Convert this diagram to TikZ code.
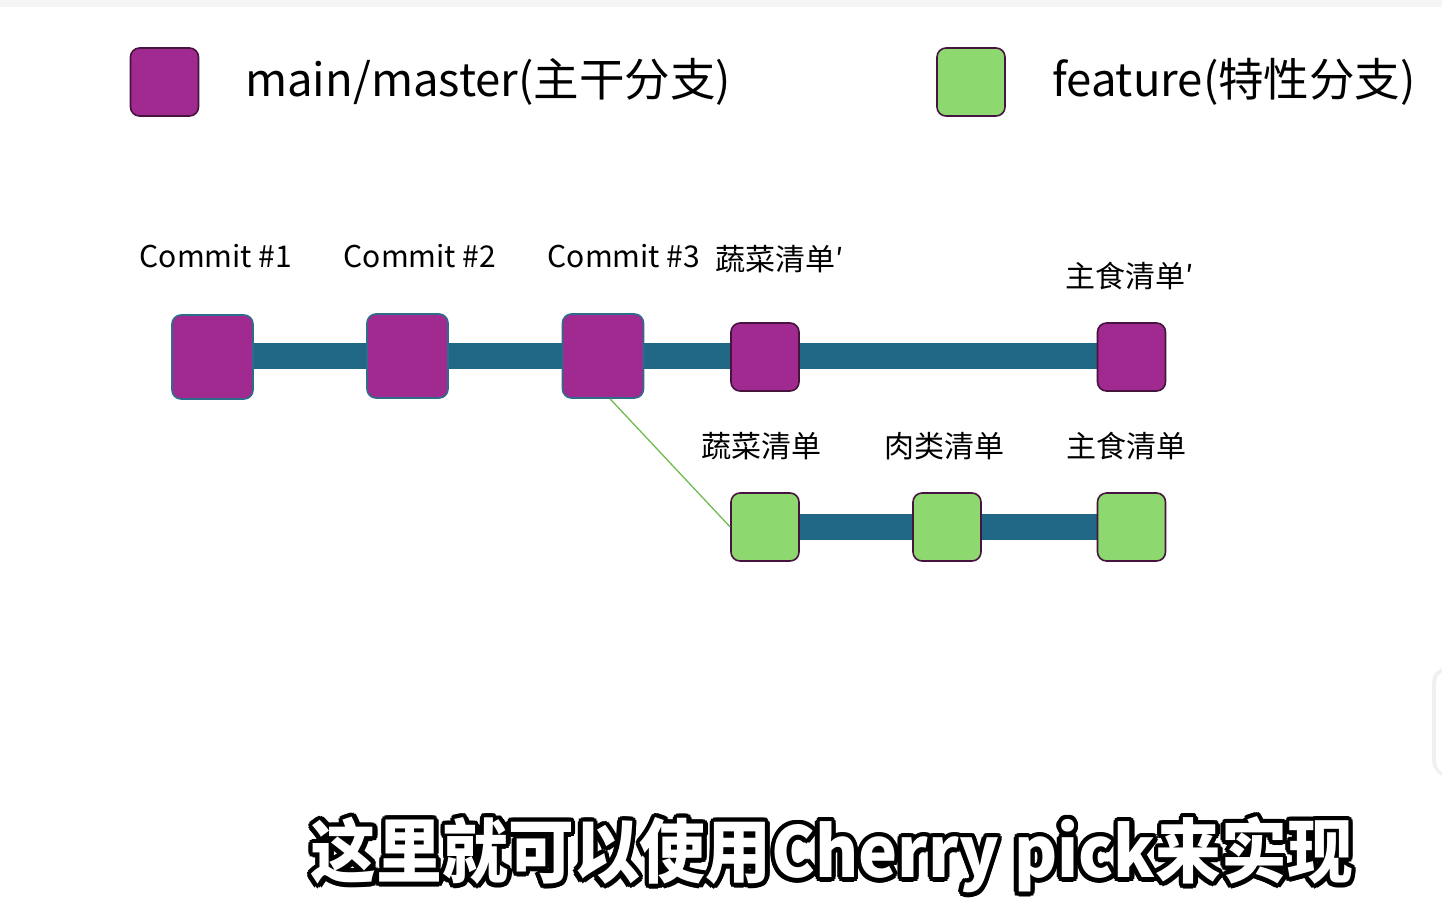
\documentclass[tikz,border=0pt]{standalone}
\usepackage{fontspec}
\setmainfont{Noto Sans CJK SC}
\definecolor{mpurple}{RGB}{160,42,143}
\definecolor{mgreen}{RGB}{141,216,111}
\definecolor{dborder}{RGB}{70,20,62}
\definecolor{tborder}{RGB}{46,108,140}
\definecolor{rail}{RGB}{33,104,135}
\definecolor{glink}{RGB}{110,187,80}
\newcommand{\subtxt}{这里就可以使用Cherry pick来实现}
\tikzset{
  bigcommit/.style={draw=tborder, line width=1.6pt, fill=mpurple, rounded corners=9pt, minimum width=81pt, minimum height=84pt, inner sep=0pt},
  pcommit/.style={draw=dborder, line width=1.6pt, fill=mpurple, rounded corners=9pt, minimum width=68pt, minimum height=68pt, inner sep=0pt},
  gcommit/.style={draw=dborder, line width=1.6pt, fill=mgreen, rounded corners=9pt, minimum width=68pt, minimum height=68pt, inner sep=0pt},
  railline/.style={draw=rail, line width=26pt},
  lbl/.style={font=\fontsize{30pt}{32pt}\selectfont, inner sep=0pt},
  leg/.style={font=\fontsize{45.5pt}{50pt}\selectfont, inner sep=0pt, anchor=west},
  subt/.style={font=\bfseries\fontsize{70pt}{76pt}\selectfont, inner sep=0pt, xscale=0.94},
}
\begin{document}
\begin{tikzpicture}[x=1pt,y=-1pt]
\useasboundingbox (0,0) rectangle (1442,916);
\fill[white] (0,0) rectangle (1442,916);
\fill[black!4] (0,0) rectangle (1442,7);
% legend
\node[pcommit] (legm) at (164.5,82) {};
\node[leg] (legmt) at (245,82) {main/master(主干分支)};
\node[gcommit] (legg) at (971,82) {};
\node[leg] (leggt) at (1052,82) {feature(特性分支)};
% rails
\draw[railline] (212,356) -- (1131,356);
\draw[railline] (765,527) -- (1131,527);
% main commits
\node[bigcommit] (c1) at (212.5,357) {};
\node[bigcommit] (c2) at (407.5,356) {};
\node[bigcommit] (c3) at (603,356) {};
\node[pcommit] (v2) at (765,357) {};
\node[pcommit] (s2) at (1131.5,357) {};
% feature commits
\node[gcommit] (v1) at (765,527) {};
\node[gcommit] (m1) at (947,527) {};
\node[gcommit] (s1) at (1131.5,527) {};
% branch link
\draw[glink, line width=1.3pt] (c3.south) ++(7,0) -- (v1.west);
% labels
\node[lbl] (l1) at (216,256) {Commit \#1};
\node[lbl] (l2) at (420,256) {Commit \#2};
\node[lbl] (l3) at (624,256) {Commit \#3};
\node[lbl] (l4) at (780,259) {蔬菜清单′};
\node[lbl] (l5) at (1130,276) {主食清单′};
\node[lbl] (l6) at (761,446) {蔬菜清单};
\node[lbl] (l7) at (944,446) {肉类清单};
\node[lbl] (l8) at (1126,446) {主食清单};
% right edge UI shape
\fill[black!6] (1442,668) -- (1436,672) .. controls (1432,676) and (1432,680) .. (1432,690) -- (1432,758) .. controls (1432,768) and (1436,772) .. (1442,776) -- cycle;
\fill[white] (1442,672) -- (1438,676) .. controls (1436,680) and (1436,684) .. (1436,692) -- (1436,756) .. controls (1436,766) and (1438,770) .. (1442,772) -- cycle;
% subtitle with outline
\foreach \a in {0,22.5,...,337.5} {
  \node[subt, text=black] at ({832+4.5*cos(\a)},{855+4.5*sin(\a)}) {\subtxt};
}
\node[subt, text=white] (sub) at (832,855) {\subtxt};
\end{tikzpicture}
\end{document}
